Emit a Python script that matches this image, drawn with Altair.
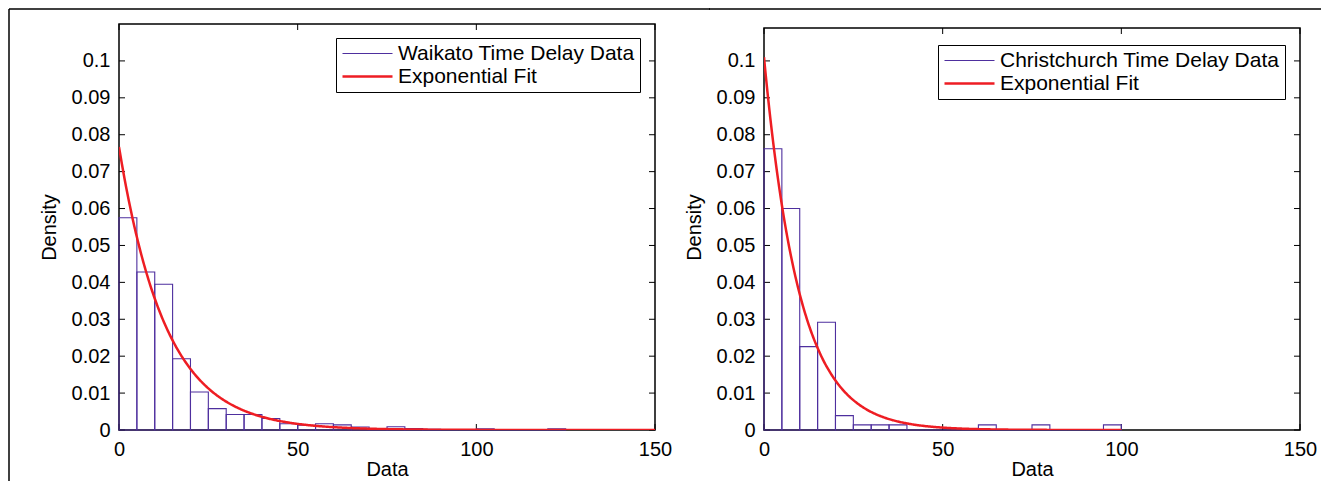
import altair as alt
import numpy as np
import pandas as pd

# ---------------- data ----------------
BIN_WIDTH = 5
waikato_density = [0.0575, 0.0428, 0.0395, 0.0193, 0.0103, 0.0058, 0.0042, 0.0042,
                   0.0031, 0.0017, 0.0013, 0.0017, 0.0014, 0.0008, 0.0004, 0.0009,
                   0.0004, 0.0002, 0.0, 0.0, 0.0003, 0.0, 0.0, 0.0, 0.0003]
christchurch_density = [0.0762, 0.0600, 0.0226, 0.0292, 0.0039, 0.0014, 0.0014, 0.0014,
                        0.0, 0.0, 0.0, 0.0, 0.0014, 0.0, 0.0, 0.0014,
                        0.0, 0.0, 0.0, 0.0014]
waikato_rate = 0.0767          # fitted exponential rate (1/mean)
christchurch_rate = 0.101
waikato_fit_max = 150
christchurch_fit_max = 100

waikato_label = "Waikato Time Delay Data"
christchurch_label = "Christchurch Time Delay Data"
fit_label = "Exponential Fit"

x_ticks = [0, 50, 100, 150]
y_ticks = [0, 0.01, 0.02, 0.03, 0.04, 0.05, 0.06, 0.07, 0.08, 0.09, 0.1]

# ---------------- styling ----------------
PURPLE = "#4E2F9E"
RED = "#EE1D23"
FONT = "Liberation Sans"
FS = 20
W, H = 536, 406


def panel(density, rate, fit_max, data_label, top_px, legend_x, legend_y, rules):
    bins = pd.DataFrame({
        "x0": [i * BIN_WIDTH for i in range(len(density))],
        "x1": [(i + 1) * BIN_WIDTH for i in range(len(density))],
        "density": density,
        "series": data_label,
    })
    xs = np.linspace(0, fit_max, int(fit_max * 4) + 1)
    fit = pd.DataFrame({"x": xs, "density": rate * np.exp(-rate * xs), "series": fit_label})

    domain = [data_label, fit_label]
    stroke_scale = alt.Scale(domain=domain, range=[PURPLE, RED])
    sw_scale = alt.Scale(domain=domain, range=[1.1, 2.5])
    legend = alt.Legend(
        orient="none", legendX=legend_x, legendY=legend_y, title=None,
        symbolType="stroke", symbolSize=2500, clipHeight=21, rowPadding=1,
        padding=5, labelOffset=4, labelFontSize=21, labelFont=FONT,
        labelLimit=500, labelColor="black", strokeColor="black",
        fillColor="white", cornerRadius=0,
    )
    xscale = alt.Scale(domain=[0, 150], nice=False, zero=False)
    yscale = alt.Scale(domain=[0, 0.11], nice=False, zero=False)
    xaxis = alt.Axis(values=x_ticks, format="d", title="Data", labelPadding=9,
                     titlePadding=0, labelFlush=False, labelOverlap=False)
    yaxis = alt.Axis(values=y_ticks, format="~g", title="Density", labelPadding=9,
                     titlePadding=12, labelFlush=False, labelOverlap=False)

    one = pd.DataFrame({"a": [0]})
    frame = alt.Chart(one).mark_rect(fill="white", fillOpacity=0, stroke="black",
                                     strokeWidth=1.5).encode(
        x=alt.value(0), x2=alt.value(W), y=alt.value(top_px), y2=alt.value(H))

    ytk = pd.DataFrame({"v": y_ticks})
    xtk = pd.DataFrame({"v": x_ticks})
    ytick_l = alt.Chart(ytk).mark_rule(color="black", strokeWidth=1).encode(
        y=alt.Y("v:Q", scale=yscale, axis=yaxis), x=alt.value(0), x2=alt.value(6))
    ytick_r = alt.Chart(ytk).mark_rule(color="black", strokeWidth=1).encode(
        y=alt.Y("v:Q", scale=yscale, axis=yaxis), x=alt.value(W - 6), x2=alt.value(W))
    xtick_b = alt.Chart(xtk).mark_rule(color="black", strokeWidth=1).encode(
        x=alt.X("v:Q", scale=xscale, axis=xaxis), y=alt.value(H - 6), y2=alt.value(H))
    xtick_t = alt.Chart(xtk).mark_rule(color="black", strokeWidth=1).encode(
        x=alt.X("v:Q", scale=xscale, axis=xaxis), y=alt.value(top_px), y2=alt.value(top_px + 6))

    bars = alt.Chart(bins).mark_rect(fill="white", fillOpacity=0).encode(
        x=alt.X("x0:Q", scale=xscale, axis=xaxis),
        x2="x1:Q",
        y=alt.Y("density:Q", scale=yscale, axis=yaxis),
        y2=alt.datum(0),
        stroke=alt.Stroke("series:N", scale=stroke_scale, legend=legend),
        strokeWidth=alt.StrokeWidth("series:N", scale=sw_scale, legend=legend),
    )
    line = alt.Chart(fit).mark_line(clip=True).encode(
        x=alt.X("x:Q", scale=xscale, axis=xaxis),
        y=alt.Y("density:Q", scale=yscale, axis=yaxis),
        stroke=alt.Stroke("series:N", scale=stroke_scale, legend=legend),
        strokeWidth=alt.StrokeWidth("series:N", scale=sw_scale, legend=legend),
    )

    deco = []
    for (x1, x2, y1, y2) in rules:
        enc = {"x": alt.value(x1), "y": alt.value(y1)}
        if x2 is not None:
            enc["x2"] = alt.value(x2)
        if y2 is not None:
            enc["y2"] = alt.value(y2)
        deco.append(alt.Chart(one).mark_rule(color="black", strokeWidth=1.5).encode(**enc))

    return alt.layer(frame, ytick_l, ytick_r, xtick_b, xtick_t, bars, line, *deco).properties(
        width=W, height=H)


left = panel(waikato_density, waikato_rate, waikato_fit_max, waikato_label,
             top_px=0, legend_x=217, legend_y=14,
             rules=[(-110, None, -15, 457), (-110, W + 55, -15, None)])
right = panel(christchurch_density, christchurch_rate, christchurch_fit_max, christchurch_label,
              top_px=4, legend_x=174, legend_y=21,
              rules=[(-55, W + 21, -15, None)])

chart = alt.hconcat(left, right, spacing=109, bounds="flush").resolve_scale(
    stroke="independent", strokeWidth="independent"
).resolve_legend(
    stroke="independent", strokeWidth="independent"
).properties(
    padding=0, background="white"
).configure_view(
    stroke=None
).configure_axis(
    labelFont=FONT, titleFont=FONT, labelFontSize=FS, titleFontSize=FS,
    labelColor="black", titleColor="black", titleFontWeight="normal",
    grid=False, domain=False, ticks=False, tickSize=0,
)

chart.save("out.html", embed_options={"renderer": "svg", "actions": False})
